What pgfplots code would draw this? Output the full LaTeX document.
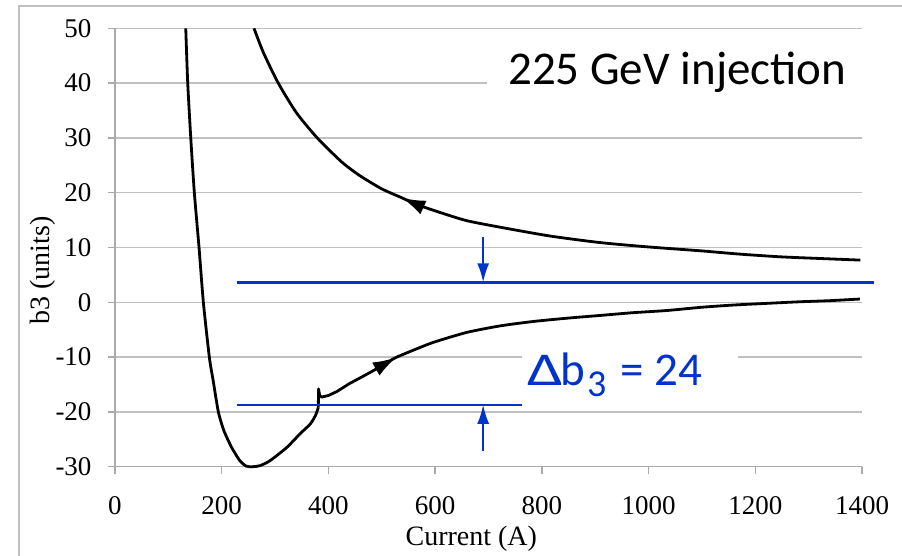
\documentclass[border=0pt]{standalone}
\usepackage{fontspec}
\setmainfont{Liberation Serif}
\newfontfamily\calibri{Carlito}
\usepackage{graphicx}
\usepackage{pgfplots}
\pgfplotsset{compat=1.18}
\usetikzlibrary{arrows.meta}
\definecolor{gridgray}{RGB}{192,192,192}
\definecolor{axgray}{RGB}{170,170,170}
\definecolor{pptblue}{RGB}{0,51,204}
\begin{document}
\begin{tikzpicture}[x=1pt,y=1pt]
\useasboundingbox (0,0) rectangle (902,555);
\fill[white] (0,0) rectangle (902,555);
\draw[gridgray, line width=1.5pt] (19,-20) -- (19,549) -- (920,549);
\begin{axis}[
  at={(115pt,88.3pt)}, anchor=south west,
  scale only axis, width=747pt, height=438.4pt,
  xmin=0, xmax=1400, ymin=-30, ymax=50,
  xtick={0,200,...,1400}, ytick={-30,-20,...,50},
  xticklabels={0,200,400,600,800,1000,1200,1400},
  yticklabels={-30,-20,-10,0,10,20,30,40,50},
  axis lines*=left,
  axis line style={axgray, line width=1.5pt},
  ymajorgrids, grid style={gridgray, line width=1.5pt},
  tick style={axgray, line width=1.5pt},
  major tick length=7pt, tick align=outside,
  tick label style={font=\fontsize{27}{32}\selectfont, inner sep=0pt},
  xticklabel style={anchor=north, yshift=-22.3pt},
  yticklabel style={anchor=east, xshift=-16.3pt},
  xlabel={Current (A)}, ylabel={b3 (units)},
  label style={font=\fontsize{28}{33}\selectfont, inner sep=0pt},
  xlabel style={at={(rel axis cs:0.477,-0.1786)}, anchor=base},
  ylabel style={at={(rel axis cs:-0.0964,0.4475)}, anchor=center, rotate=0},
  clip=false,
]
% up-ramp, part 1 (descent and minimum)
\addplot[black, line width=2.8pt, smooth, tension=0.4, line join=round] coordinates {
 (132.6,50) (136.3,40) (142,30) (148.7,20) (157.5,10) (165.6,0) (176.8,-10)
 (184,-14.3) (193.7,-20) (204,-23.4) (218.7,-26.5) (234,-28.9) (246,-29.9)
 (258,-30) (272,-29.8) (290.5,-28.9) (321.8,-26.5) (346.7,-24.0) (366,-22.2)
 (376,-20.6) (381,-19.2)};
% up-ramp, part 2 (spike and rise to the arrow)
\addplot[black, line width=2.8pt, line join=round, -{Latex[length=24pt,width=15pt]}] coordinates {
 (381,-19.2) (381.5,-15.8) (383.5,-17.0) (387.5,-17.3) (400,-17.0) (415.5,-16.3)
 (440,-14.8) (465,-13.5) (491,-12.1) (510,-11.0) (528,-10.0)};
% up-ramp, part 3
\addplot[black, line width=2.8pt, smooth, tension=0.4] coordinates {
 (518,-10.5) (528,-10.0) (560,-8.7) (597,-7.3) (659,-5.5) (722,-4.3) (784,-3.5) (847,-2.9)
 (909,-2.4) (970,-1.9) (1034,-1.5) (1100,-0.9) (1159,-0.5) (1220,-0.2)
 (1284,0.1) (1340,0.3) (1396,0.6)};
% down-ramp, part 1 (from high current to the arrow)
\addplot[black, line width=2.8pt, smooth, tension=0.4, -{Latex[length=24pt,width=15pt]}] coordinates {
 (1397,7.7) (1320,8.0) (1247,8.3) (1170,8.8) (1097,9.4) (1000,10.1) (909,10.9)
 (815,12.1) (722,13.7) (659,14.9) (609,16.4) (570,17.7) (537,19.1)};
% down-ramp, part 2
\addplot[black, line width=2.8pt, smooth, tension=0.4] coordinates {
 (548,18.6) (537,19.1) (500,20.7) (459,23.1) (425,25.6) (379,30)
 (340,34.6) (306,40) (278,45.6) (260.5,50)};
% blue annotation lines
\addplot[pptblue, line width=2.4pt] coordinates {(228,3.65) (1423,3.65)};
\addplot[pptblue, line width=2.4pt] coordinates {(228,-18.7) (762,-18.7)};
\addplot[pptblue, line width=2pt, -{Latex[length=19pt,width=12pt]}] coordinates {(690,11.9) (690,3.65)};
\addplot[pptblue, line width=2pt, -{Latex[length=19pt,width=12pt]}] coordinates {(690,-27.1) (690,-18.7)};
\end{axis}
\fill[white] (487,437) rectangle (910,513);
\fill[white] (522,157) rectangle (738,218);
\node[anchor=base west, inner sep=0pt, font=\calibri\fontsize{47}{56}\selectfont] at (508,470) {225 GeV injection};
\node[anchor=base west, inner sep=0pt, text=pptblue, font=\calibri\fontsize{47}{56}\selectfont] at (527,170)
 {\makebox[33pt][l]{\scalebox{1.35}[1.0]{Δ}}\makebox[27pt][l]{b}\makebox[33pt][l]{\raisebox{-11.7pt}{\fontsize{38}{38}\selectfont 3}}= 24};
\end{tikzpicture}
\end{document}
